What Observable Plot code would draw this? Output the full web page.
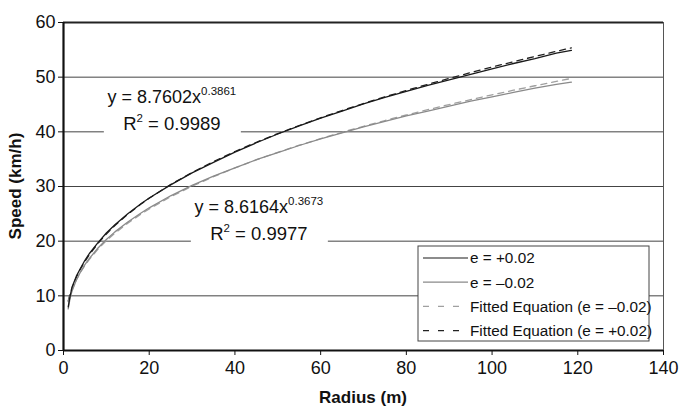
<!DOCTYPE html>
<html><head><meta charset="utf-8">
<script src="https://cdn.jsdelivr.net/npm/d3@7"></script>
<script src="https://cdn.jsdelivr.net/npm/@observablehq/plot@0.6"></script>
<style>body{margin:0;background:#fff;} svg{display:block}</style>
</head><body><div id="chart"></div>
<script>
// ---- data ----
const radius = [1.1,1.5,2,3,4,5,6,8,10,12,15,18,20,25,30,35,40,45,50,55,60,65,70,75,80,85,90,95,100,105,110,115,118.5];
const speedPlus  = [8.0,9.8,11.6,13.6,15.1,16.5,17.7,19.7,21.5,23.0,25.0,26.8,27.9,30.3,32.5,34.4,36.3,38.0,39.6,41.1,42.5,43.8,45.1,46.3,47.4,48.5,49.5,50.5,51.5,52.5,53.4,54.4,54.9];
const speedMinus = [7.6,9.4,10.9,12.9,14.4,15.7,16.8,18.7,20.3,21.7,23.5,25.1,26.1,28.3,30.2,31.9,33.4,34.9,36.2,37.5,38.7,39.8,40.9,41.9,42.9,43.8,44.7,45.6,46.4,47.2,48.0,48.7,49.1];
const fitPlus    = [9.09,10.24,11.45,13.39,14.96,16.31,17.50,19.55,21.31,22.86,24.92,26.74,27.85,30.36,32.57,34.57,36.40,38.09,39.67,41.16,42.57,43.90,45.18,46.40,47.57,48.69,49.78,50.83,51.85,52.83,53.79,54.72,55.36];
const fitMinus   = [8.92,10.00,11.11,12.90,14.34,15.56,16.64,18.49,20.07,21.46,23.30,24.91,25.89,28.11,30.05,31.80,33.40,34.88,36.25,37.55,38.76,39.92,41.02,42.07,43.08,44.06,44.99,45.89,46.77,47.61,48.43,49.23,49.77];
const xTicks = [0,20,40,60,80,100,120,140];
const yTicks = [0,10,20,30,40,50,60];
const gridY = [10,20,30,40,50];
const seriesNames = ["e = +0.02","e = \u20130.02","Fitted Equation (e = \u20130.02)","Fitted Equation (e = +0.02)"];
const equations = [
  {x: 25.4, y: 40, coef: "8.7602", exp: "0.3861", r2: "0.9989"},
  {x: 45.7, y: 20, coef: "8.6164", exp: "0.3673", r2: "0.9977"}
];

// ---- build table ----
const table = [];
radius.forEach((r,i)=>{
  table.push({r, v: speedPlus[i], s: seriesNames[0]});
  table.push({r, v: speedMinus[i], s: seriesNames[1]});
  table.push({r, v: fitMinus[i], s: seriesNames[2]});
  table.push({r, v: fitPlus[i], s: seriesNames[3]});
});
const styles = {
  [seriesNames[0]]: {stroke:"#1a1a1a", dash:null},
  [seriesNames[1]]: {stroke:"#8a8a8a", dash:null},
  [seriesNames[2]]: {stroke:"#a0a0a0", dash:"6,5"},
  [seriesNames[3]]: {stroke:"#222", dash:"6,5"}
};
const FONT = "'Liberation Sans', Arial, sans-serif";

const lineMarks = seriesNames.map(n => Plot.line(table.filter(d=>d.s===n), {
  x:"r", y:"v", stroke: styles[n].stroke, strokeWidth: 1.3,
  strokeDasharray: styles[n].dash, curve:"linear"
}));

const plot = Plot.plot({
  width: 682, height: 412,
  marginLeft: 63, marginRight: 19, marginTop: 22, marginBottom: 62,
  style: {fontFamily: FONT, fontSize: "18px", background: "#fff", color:"#111"},
  x: {domain: [0,140]},
  y: {domain: [0,60]},
  marks: [
    Plot.ruleY(gridY, {stroke:"#444", strokeWidth:1}),
    Plot.ruleY([60], {stroke:"#222", strokeWidth:2}),
    Plot.ruleX([140], {stroke:"#555", strokeWidth:1}),
    ...lineMarks.slice().reverse(),
    Plot.axisX({ticks: xTicks, tickSize:5, tickPadding:6, label:null, fontSize:18, stroke:"#111"}),
    Plot.axisY({ticks: yTicks, tickSize:5, tickPadding:3, label:null, fontSize:18, stroke:"#111"}),
    Plot.ruleX([0], {stroke:"#111", strokeWidth:2.2}),
    Plot.ruleY([0], {stroke:"#111", strokeWidth:2.2})
  ]
});
document.getElementById("chart").appendChild(plot);

const svg = d3.select(plot);
const sx = plot.scale("x").apply, sy = plot.scale("y").apply;

// equation annotations (white boxes interrupt the gridlines)
equations.forEach(e => {
  const cx = sx(e.x), gy = sy(e.y);
  svg.append("rect").attr("x", cx-68).attr("y", gy-4).attr("width", 137).attr("height", 8).attr("fill","#fff");
  const t1 = svg.append("text").attr("x", cx).attr("y", gy-28).attr("text-anchor","middle")
    .attr("font-family", FONT).attr("font-size", 18).attr("fill","#111");
  t1.append("tspan").text("y = " + e.coef + "x");
  t1.append("tspan").attr("dy", -8).attr("font-size", 11.5).text(e.exp);
  const t2 = svg.append("text").attr("x", cx).attr("y", gy-1).attr("text-anchor","middle")
    .attr("font-family", FONT).attr("font-size", 18.5).attr("fill","#111");
  t2.append("tspan").text("R");
  t2.append("tspan").attr("dy", -8).attr("font-size", 11.5).text("2");
  t2.append("tspan").attr("dy", 8).text(" = " + e.r2);
});

// legend
const lg = svg.append("g").attr("transform", "translate(418,246)");
lg.append("rect").attr("width", 231).attr("height", 95).attr("fill","#fff").attr("stroke","#444").attr("stroke-width",1);
seriesNames.forEach((n,i) => {
  const yy = 12 + i*24.2;
  lg.append("line").attr("x1", 5).attr("x2", styles[n].dash ? 41 : 50).attr("y1", yy).attr("y2", yy)
    .attr("stroke", styles[n].stroke).attr("stroke-width", 1.2).attr("stroke-dasharray", styles[n].dash ? "6,9" : null);
  lg.append("text").attr("x", 52).attr("y", yy).attr("dy","0.35em").attr("text-anchor","start")
    .attr("font-family", FONT).attr("font-size", 15.3).attr("fill","#111").text(n);
});

// axis titles
svg.append("text").attr("x", 363).attr("y", 403).attr("text-anchor","middle")
  .attr("font-family", FONT).attr("font-size", 17).attr("font-weight","bold").attr("fill","#111").text("Radius (m)");
svg.append("text").attr("transform","translate(21,186) rotate(-90)").attr("text-anchor","middle")
  .attr("font-family", FONT).attr("font-size", 17).attr("font-weight","bold").attr("fill","#111").text("Speed (km/h)");
</script></body></html>
